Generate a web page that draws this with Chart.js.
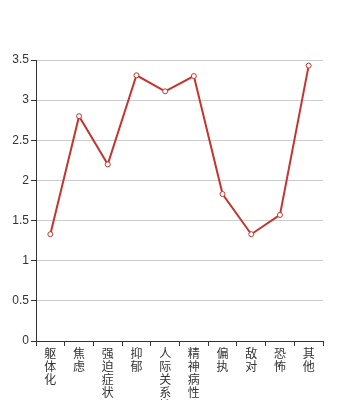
<!DOCTYPE html>
<html>
<head>
<meta charset="utf-8">
<script src="https://cdn.jsdelivr.net/npm/chart.js@4/dist/chart.umd.min.js"></script>
<style>
  html, body { margin: 0; padding: 0; background: #fff; }
  #wrap { width: 360px; height: 400px; }
</style>
</head>
<body>
<div id="wrap"><canvas id="c" width="360" height="400"></canvas></div>
<script>
// categories and values
const categories = ["躯体化", "焦虑", "强迫症状", "抑郁", "人际关系敏感", "精神病性", "偏执", "敌对", "恐怖", "其他"];
const scores = [1.33, 2.8, 2.2, 3.31, 3.11, 3.3, 1.83, 1.33, 1.57, 3.43];
const yTicks = [0, 0.5, 1, 1.5, 2, 2.5, 3, 3.5];

// stack each label vertically, one char per line
const labels = categories.map((s) => s.split(""));

const axisColor = "#333";
const xFont = { family: "'Noto Sans CJK SC', 'Noto Sans', sans-serif", size: 12, lineHeight: 1.08 };
const yFont = { family: "'Liberation Sans', Arial, sans-serif", size: 12 };

new Chart(document.getElementById("c"), {
    type: "line",
    data: {
        labels: labels,
        datasets: [{
            data: scores,
            borderColor: "#c23531",
            borderWidth: 2,
            pointRadius: 2.5,
            pointBorderWidth: 1,
            pointBackgroundColor: "#fff",
            pointBorderColor: "#c23531",
            tension: 0,
            fill: false
        }]
    },
    options: {
        responsive: false,
        animation: false,
        layout: { padding: { top: 60, right: 37, left: 0, bottom: 0 } },
        plugins: { legend: { display: false }, tooltip: { enabled: false } },
        scales: {
            x: {
                offset: true,
                grid: { offset: true, drawOnChartArea: false, drawTicks: true, tickLength: 5, tickColor: axisColor },
                border: { color: axisColor, width: 1 },
                ticks: { color: axisColor, font: xFont, maxRotation: 0, minRotation: 0, autoSkip: false, padding: 1 },
                afterFit: (scale) => { scale.height = 59; }
            },
            y: {
                min: 0,
                max: 3.5,
                afterBuildTicks: (scale) => { scale.ticks = yTicks.map((v) => ({ value: v })); },
                grid: { color: "#ccc", tickColor: axisColor, tickLength: 5 },
                border: { color: axisColor, width: 1 },
                ticks: { color: axisColor, font: yFont, padding: 2, callback: (v) => String(v) },
                afterFit: (scale) => { scale.width = 36; }
            }
        }
    }
});
</script>
</body>
</html>
